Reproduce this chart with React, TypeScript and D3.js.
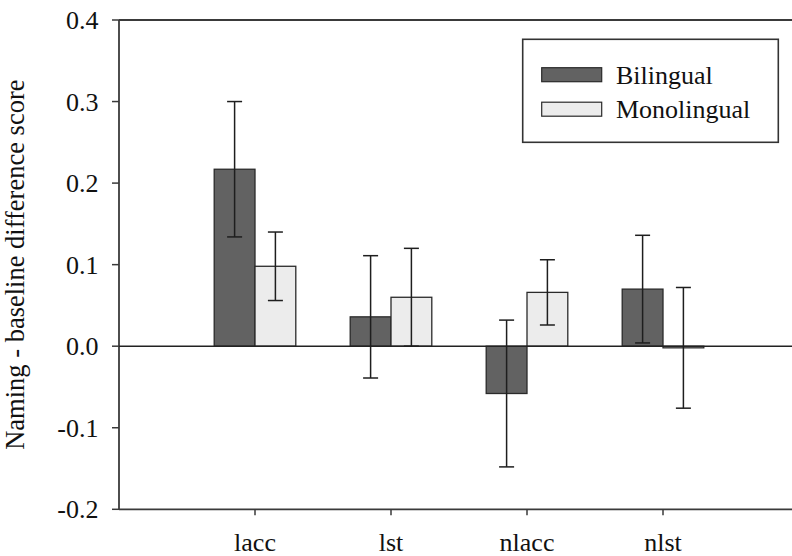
import React from "react";
import * as d3 from "d3";

// Conditions along the x axis
const categories = ["lacc", "lst", "nlacc", "nlst"];
// Group means (difference scores)
const bilingual = [0.217, 0.036, -0.058, 0.07];
const monolingual = [0.098, 0.06, 0.066, -0.002];
// Error bar half-widths
const bilingualErr = [0.083, 0.075, 0.09, 0.066];
const monolingualErr = [0.042, 0.06, 0.04, 0.074];
// Axis ticks
const yTicks = [-0.2, -0.1, 0.0, 0.1, 0.2, 0.3, 0.4];
const seriesNames = ["Bilingual", "Monolingual"];

const W = 792;
const H = 556;
const FONT = '"Liberation Serif", "Times New Roman", Times, serif';
const COLORS = ["#626262", "#ececec"];

// one-decimal tick labels with a plain hyphen for negatives
const fmt = (t: number) => d3.format(".1f")(t).replace("\u2212", "-");

type LabelProps = {
  x: number;
  y: number;
  size: number;
  anchor?: "start" | "middle" | "end";
  rotate?: number;
  children: React.ReactNode;
};

// text placed through a transform so every label shares the same rendering path
function Label({ x, y, size, anchor = "start", rotate = 0, children }: LabelProps) {
  return (
    <text
      transform={`translate(${x}, ${y}) rotate(${rotate})`}
      textAnchor={anchor}
      fontSize={size}
      fill="#111"
      style={{ fontFamily: FONT }}
    >
      {children}
    </text>
  );
}

export default function App() {
  const x = d3.scaleLinear().domain([0, 5]).range([119, 799]);
  const y = d3.scaleLinear().domain([-0.2, 0.4]).range([509.3, 20]);
  const barW = x(0.3) - x(0);
  const capHalf = 7.5;
  const axisColor = "#3a3a3a";

  const series = [
    { name: seriesNames[0], values: bilingual, errs: bilingualErr, offset: -0.3, color: COLORS[0] },
    { name: seriesNames[1], values: monolingual, errs: monolingualErr, offset: 0, color: COLORS[1] },
  ];

  return (
    <svg
      width={W}
      height={H}
      style={{ position: "absolute", left: 0, top: 0, background: "#fff", fontFamily: FONT }}
    >
      {/* frame lines: top, left, bottom */}
      <line x1={x(0)} x2={W} y1={y(0.4)} y2={y(0.4)} stroke={axisColor} strokeWidth={1.8} />
      <line x1={x(0)} x2={W} y1={y(-0.2)} y2={y(-0.2)} stroke={axisColor} strokeWidth={1.8} />
      <line x1={x(0)} x2={x(0)} y1={y(0.4)} y2={y(-0.2)} stroke={axisColor} strokeWidth={1.8} />

      {/* y ticks and labels */}
      {yTicks.map((t) => (
        <g key={t}>
          <line x1={x(0) - 7} x2={x(0)} y1={y(t)} y2={y(t)} stroke={axisColor} strokeWidth={1.5} />
          <Label x={98.5} y={y(t) + 9} size={26} anchor="end">
            {fmt(t)}
          </Label>
        </g>
      ))}

      {/* x ticks and labels */}
      {categories.map((c, i) => (
        <g key={c}>
          <line x1={x(i + 1)} x2={x(i + 1)} y1={y(-0.2)} y2={y(-0.2) + 6} stroke={axisColor} strokeWidth={1.5} />
          <Label x={x(i + 1)} y={551} size={26} anchor="middle">
            {c}
          </Label>
        </g>
      ))}

      {/* y axis title */}
      <Label x={24} y={(y(0.4) + y(-0.2)) / 2} size={26.5} anchor="middle" rotate={-90}>
        Naming - baseline difference score
      </Label>

      {/* bars */}
      {series.map((s) =>
        s.values.map((v, i) => {
          const x0 = x(i + 1 + s.offset);
          return (
            <rect
              key={s.name + i}
              x={x0}
              y={Math.min(y(v), y(0))}
              width={barW}
              height={Math.abs(y(v) - y(0))}
              fill={s.color}
              stroke="#2a2a2a"
              strokeWidth={1.3}
            />
          );
        })
      )}

      {/* zero reference line */}
      <line x1={x(0)} x2={W} y1={y(0)} y2={y(0)} stroke="#222" strokeWidth={1.5} />

      {/* error bars */}
      {series.map((s) =>
        s.values.map((v, i) => {
          const cx = x(i + 1 + s.offset) + barW / 2;
          const hi = y(v + s.errs[i]);
          const lo = y(v - s.errs[i]);
          return (
            <g key={"e" + s.name + i} stroke="#1e1e1e" strokeWidth={1.5}>
              <line x1={cx} x2={cx} y1={hi} y2={lo} />
              <line x1={cx - capHalf} x2={cx + capHalf} y1={hi} y2={hi} />
              <line x1={cx - capHalf} x2={cx + capHalf} y1={lo} y2={lo} />
            </g>
          );
        })
      )}

      {/* legend */}
      <rect x={522.7} y={39.3} width={255.6} height={103} fill="#fff" stroke="#333" strokeWidth={1.6} />
      {series.map((s, i) => (
        <g key={"lg" + s.name}>
          <rect
            x={541.7}
            y={67.7 + i * 34.5}
            width={60}
            height={14}
            fill={s.color}
            stroke="#2a2a2a"
            strokeWidth={1.2}
          />
          <Label x={616} y={83.5 + i * 34.5} size={26}>
            {s.name}
          </Label>
        </g>
      ))}
    </svg>
  );
}
